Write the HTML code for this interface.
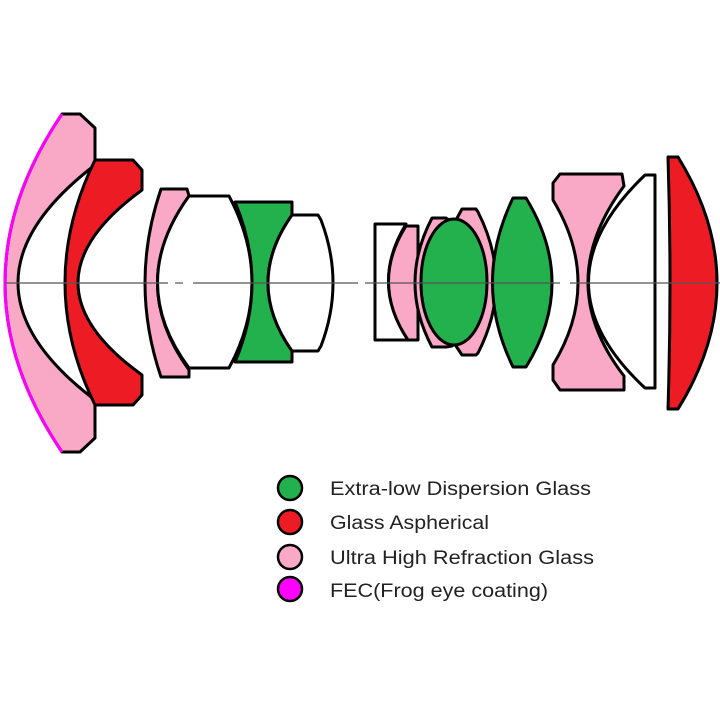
<!DOCTYPE html>
<html><head><meta charset="utf-8"><style>html,body{margin:0;padding:0;background:#fff}svg{display:block}</style></head>
<body>
<svg width="720" height="720" viewBox="0 0 720 720" xmlns="http://www.w3.org/2000/svg">
<g stroke="#000" stroke-width="3" stroke-linejoin="round">
<!-- lens 1 pink meniscus -->
<path d="M62,114 Q-52,283 62,452 L80,452 L95,438 L95,400 Q-59,283 95,165 L95,128 L80,114 Z" fill="#f9a9c5"/>
<path d="M62,114 Q-52,283 62,452" fill="none" stroke="#ff00ff" stroke-width="3"/>
<!-- lens 2 red -->
<path d="M95,160 L133,160 L142,170 L142,190 Q14,283 142,375 L142,395 L133,405 L95,405 Q35,283 95,160 Z" fill="#ed1c24"/>
<!-- lens 3 pink -->
<path d="M161,189 L187,189 L189,196 Q126,283 189,370 L189,377 L161,377 Q129,283 161,189 Z" fill="#f9a9c5"/>
<!-- lens 4 white -->
<path d="M189,196 L229,196 Q275,283 229,368 L189,368 Q126,283 189,196 Z" fill="#fff"/>
<!-- lens 5 green -->
<path d="M235,202 L292,202 L292,215 Q244,283 292,351 L292,362 L235,362 Q269,283 235,202 Z" fill="#22b14c"/>
<!-- lens 6 white -->
<path d="M292,215 L318,215 L321,220 Q345,283 321,346 L318,351 L292,351 Q244,283 292,215 Z" fill="#fff"/>
<!-- right group -->
<path d="M375,224 L406,224 Q370,283 408,340 L375,340 Z" fill="#fff"/>
<path d="M406,226 L418,226 L418,340 L408,340 Q370,283 406,226 Z" fill="#f9a9c5"/>
<path d="M432,218 L446,218 L452,222 Q390,283 452,346 L446,347 L432,347 Q398,283 432,218 Z" fill="#f9a9c5"/>
<path d="M462,209 L476,209 L478,212 Q514,283 478,353 L476,355 L462,355 L456,346 Q516,283 456,220 Z" fill="#f9a9c5"/>
<ellipse cx="454" cy="282" rx="33" ry="63" fill="#22b14c"/>
<path d="M513,198 L526,198 Q578,283 526,367 L513,367 Q472,283 513,198 Z" fill="#22b14c"/>
<path d="M560,174 L622,174 L624,186 Q552,283 624,376 L624,390 L560,390 L553,380 L553,365 Q603,283 553,200 L553,183 Z" fill="#f9a9c5"/>
<path d="M645,175 L655,175 L655,388 L645,388 Q532,283 645,175 Z" fill="#fff"/>
<path d="M668,157 L678,157 Q756,283 678,409 L668,409 Q672,283 668,157 Z" fill="#ed1c24"/>
</g>
<!-- axis -->
<g stroke="#555" stroke-width="1.2">
<line x1="5" y1="283" x2="168" y2="283"/>
<line x1="175" y1="283" x2="183" y2="283"/>
<line x1="193" y1="283" x2="358" y2="283"/>
<line x1="365" y1="283" x2="560" y2="283"/>
<line x1="570" y1="283" x2="720" y2="283"/>
</g>
<!-- legend -->
<g stroke="#000" stroke-width="2.5">
<circle cx="290" cy="488" r="12" fill="#22b14c"/>
<circle cx="290" cy="522" r="12" fill="#ed1c24"/>
<circle cx="290" cy="557" r="12" fill="#f9a9c5"/>
<circle cx="290" cy="589" r="12" fill="#ff00ff"/>
</g>
<g font-family="Liberation Sans, sans-serif" font-size="19" fill="#222">
<text x="330" y="495" textLength="261" lengthAdjust="spacingAndGlyphs">Extra-low Dispersion Glass</text>
<text x="330" y="529" textLength="159" lengthAdjust="spacingAndGlyphs">Glass Aspherical</text>
<text x="330" y="564" textLength="264" lengthAdjust="spacingAndGlyphs">Ultra High Refraction Glass</text>
<text x="330" y="597" textLength="218" lengthAdjust="spacingAndGlyphs">FEC(Frog eye coating)</text>
</g>
</svg>
</body></html>
